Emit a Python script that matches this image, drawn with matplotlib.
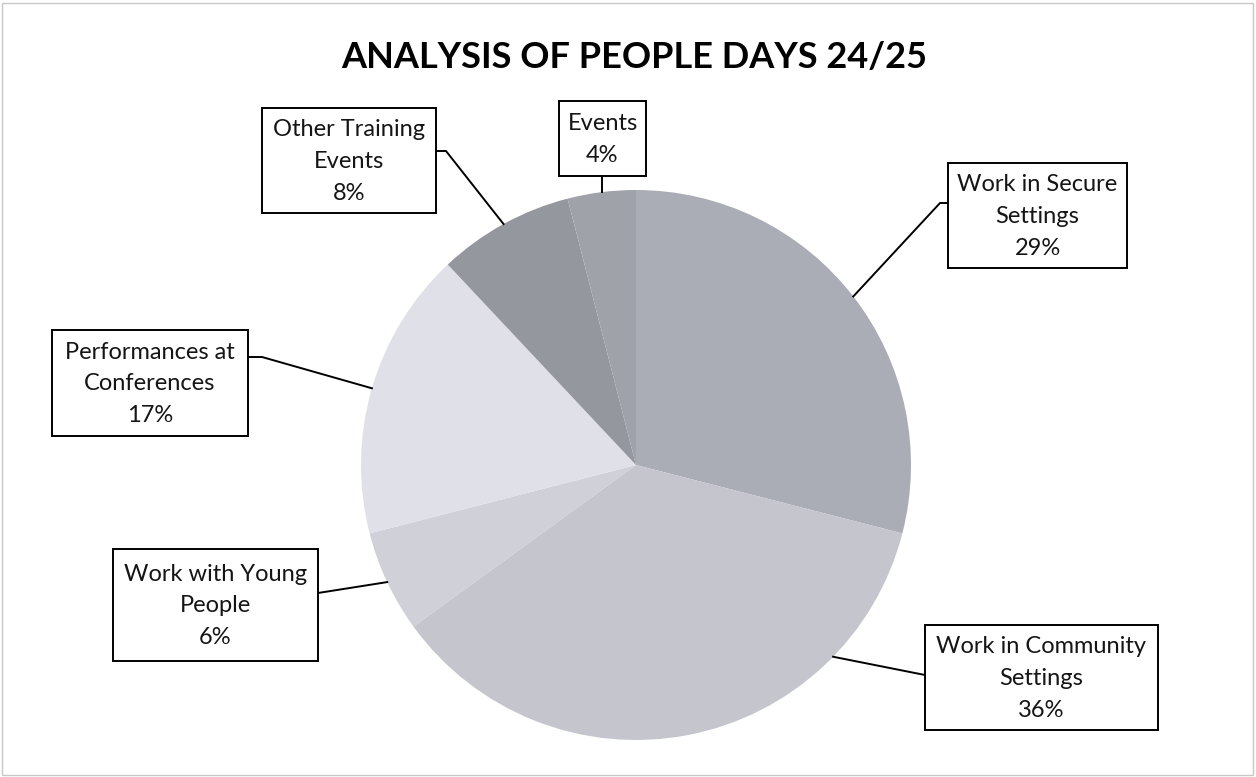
import numpy as np
from matplotlib import pyplot as plt
from matplotlib.patches import Rectangle

# data
labels = ["Work in Secure\nSettings", "Work in Community\nSettings", "Work with Young\nPeople",
          "Performances at\nConferences", "Other Training\nEvents", "Events"]
shares = [29, 36, 6, 17, 8, 4]
colors = ["#abadb6", "#c4c5cd", "#cfd0d8", "#e0e0e8", "#95979f", "#a0a2aa"]

W, H = 1256, 777
cx, cy, R = 636, H - 465, 275

# label boxes: (x0, top, x1, bottom) in pixels from the top-left
boxes = [(948, 163, 1127, 268), (925, 625, 1158, 730), (113, 549, 318, 661),
         (52, 330, 248, 436), (262, 108, 436, 213), (559, 101, 646, 176)]
# where the leader leaves the box (pixels from top) and length of its flat stub
elbow_y = [203, 675, 593, 357, 151, None]
stub = [8, 0, 0, 14, 10, 0]
# where along each wedge the leader meets the rim (0..1 of the wedge)
anchor_frac = [0.5, 0.23, 0.5, 0.5, 0.5, 0.5]

plt.rcParams['font.family'] = ['Lato', 'DejaVu Sans']

fig = plt.figure(figsize=(W / 100, H / 100), dpi=100)
ax = fig.add_axes([0, 0, 1, 1])
ax.set_aspect('equal')
ax.axis('off')

ax.pie(shares, colors=colors, startangle=90, counterclock=False,
       center=(cx, cy), radius=R, wedgeprops=dict(linewidth=0))
ax.set_xlim(0, W)
ax.set_ylim(0, H)

total = float(sum(shares))
cum = np.cumsum([0] + shares) / total

for i, (lab, val) in enumerate(zip(labels, shares)):
    x0, t0, x1, t1 = boxes[i]
    y0, y1 = H - t1, H - t0
    ax.add_patch(Rectangle((x0, y0), x1 - x0, y1 - y0, facecolor='white',
                           edgecolor='black', linewidth=1.4, zorder=4))
    ax.text((x0 + x1) / 2, (y0 + y1) / 2 - 1, "%s\n%d%%" % (lab, val), ha='center', va='center',
            fontsize=17, linespacing=1.62, color='#151515', zorder=5)

    # leader line from the rim to the box
    f = cum[i] + anchor_frac[i] * (cum[i + 1] - cum[i])
    ang = np.deg2rad(90 - 360 * f)
    px, py = cx + R * np.cos(ang), cy + R * np.sin(ang)
    if elbow_y[i] is None:
        pts = [(px, py), (px, y0)]
    else:
        by = H - elbow_y[i]
        bx = x1 if px > x1 else x0
        sx = bx + stub[i] if px > x1 else bx - stub[i]
        pts = [(px, py), (sx, by), (bx, by)]
    xs, ys = zip(*pts)
    ax.plot(xs, ys, color='black', linewidth=1.4, zorder=3)

ax.text(W / 2 + 6, H - 57, "ANALYSIS OF PEOPLE DAYS 24/25", ha='center', va='center',
        fontsize=26, fontweight='bold', color='black')

ax.add_patch(Rectangle((2, 2), W - 5, H - 5, fill=False, edgecolor='#c8c8c8', linewidth=1))

fig.savefig('out.png', dpi=100, facecolor='white')
